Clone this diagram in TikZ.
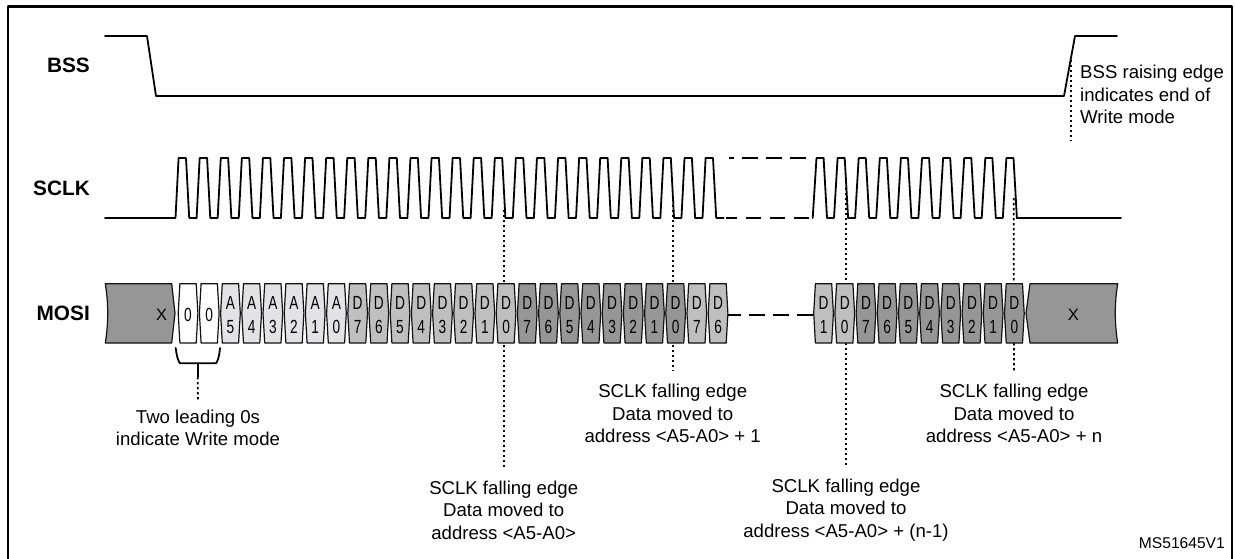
\documentclass[tikz,border=0pt]{standalone}
\usepackage{fontspec}
\usepackage{pgf,tikz}
\setmainfont{Liberation Sans}
\newfontfamily\cellfont[FakeStretch=0.72]{Liberation Sans}
\definecolor{qqqqqq}{rgb}{0.07,0.07,0.07}
\definecolor{ffffff}{rgb}{1.,1.,1.}
\definecolor{eeeeee}{rgb}{0.89,0.89,0.90}
\definecolor{cccccc}{rgb}{0.75,0.75,0.75}
\definecolor{999999}{rgb}{0.59,0.59,0.59}
\tikzset{
  signal line/.style={line width=1.8pt,black},
  lead line/.style={line width=1.8pt,black,line cap=butt,dash pattern=on 2.4pt off 2.6pt},
  cell line/.style={line width=1.2pt,qqqqqq},
  cell text/.style={font=\cellfont\fontsize{19}{24.5}\selectfont,align=center,inner sep=0pt,minimum width=19.7pt,minimum height=59.3pt},
  note/.style={font=\fontsize{18.6}{22.6}\selectfont,align=center,inner sep=0pt},
  name label/.style={font=\bfseries\fontsize{20.8}{24}\selectfont,inner sep=0pt,anchor=east},
}
\begin{document}
\begin{tikzpicture}[line cap=round,line join=round,x=1pt,y=-1pt]
\useasboundingbox (0,0) rectangle (1235,559);
\draw [line width=2.6pt,line cap=butt] (8,560) -- (8,6.5) -- (1232,6.5) -- (1232,560);
\node [name label] (bss) at (90,65) {BSS};
\node [name label] (sclk) at (90,188) {SCLK};
\node [name label] (mosi) at (90,313.3) {MOSI};
% waveforms
\draw [signal line] (105,36) -- (147,36) -- (156,96) -- (1064,96) -- (1075,36) -- (1117,36);
\draw [signal line] (105,218) -- (175.5,218)
  \foreach \k in {0,...,25} { -- ({178.6+21.08*\k},158) -- ({186+21.08*\k},158) -- ({189.2+21.08*\k},218) -- ({196.6+21.08*\k},218) };
\draw [signal line] (812.7,218)
  \foreach \k in {0,...,9} { -- ({816.5+21.1*\k},158) -- ({823.6+21.1*\k},158) -- ({827+21.1*\k},218) -- ({834+21.1*\k},218) };
\draw [signal line] (1016.7,218) -- (1121,218);
\draw [signal line,line cap=butt,dash pattern=on 16pt off 8pt,dash phase=11.3pt] (729,158) -- (806,158);
\draw [signal line,line cap=butt,dash pattern=on 15.5pt off 8.5pt,dash phase=4.5pt] (726,218) -- (809,218);
% text under the frames
\node [note] (lead0) at (198,428) {Two leading 0s\\indicate Write mode};
\node [note] (edge0) at (503.7,510) {SCLK falling edge\\Data moved to\\address <A5-A0>};
\node [note] (edge1) at (672.7,413.5) {SCLK falling edge\\Data moved to\\address <A5-A0> + 1};
\node [note] (edge2) at (846,510) {SCLK falling edge\\Data moved to\\address <A5-A0> + (n-1)};
\node [note] (edge3) at (1014,413.5) {SCLK falling edge\\Data moved to\\address <A5-A0> + n};
\node [note,align=left,anchor=north west] (bssnote) at (1080,65) {BSS raising edge\\indicates end of\\Write mode};
\node [font=\fontsize{15.6}{18}\selectfont,inner sep=0pt,anchor=east] (code) at (1225,542.7) {MS51645V1};
% dotted leaders
\coordinate (tick0) at (503.7,210);
\coordinate (tick1) at (672.7,205);
\coordinate (tick2) at (846,188);
\coordinate (tick3) at (1013.7,198);
\coordinate (tickbss) at (1070.7,60);
\coordinate (tickend) at (1070.7,141);
\draw [lead line,shorten >=13pt] (tick0) -- (edge0.north);
\draw [lead line,shorten >=13pt] (tick1) -- (edge1.north);
\draw [lead line,shorten >=13pt] (tick2) -- (edge2.north);
\draw [lead line,shorten >=13pt] (tick3) -- (edge3.north);
\draw [lead line] (tickbss) -- (tickend);
% serial data
\draw [cell line,fill=999999] (105.3,283.7) -- (171.7,283.7) -- (175,313.3) -- (171.7,343) -- (105.3,343) .. controls (108.5,323) and (108.5,303) .. cycle;
\draw [cell line,fill=999999] (1030,283.7) -- (1117.7,283.7) .. controls (1114.5,303) and (1114.5,323) .. (1117.7,343) -- (1030,343) -- (1026,313.3) -- cycle;
\node [font=\fontsize{16.5}{20}\selectfont,inner sep=0pt] (xa) at (161.7,315) {X};
\node [font=\fontsize{16.5}{20}\selectfont,inner sep=0pt] (xb) at (1073.3,315) {X};
\foreach \k/\f/\t in {0/ffffff/0,1/ffffff/0,
  2/eeeeee/A\\5,3/eeeeee/A\\4,4/eeeeee/A\\3,5/eeeeee/A\\2,6/eeeeee/A\\1,7/eeeeee/A\\0,
  8/cccccc/D\\7,9/cccccc/D\\6,10/cccccc/D\\5,11/cccccc/D\\4,12/cccccc/D\\3,13/cccccc/D\\2,14/cccccc/D\\1,15/cccccc/D\\0,
  16/999999/D\\7,17/999999/D\\6,18/999999/D\\5,19/999999/D\\4,20/999999/D\\3,21/999999/D\\2,22/999999/D\\1,23/999999/D\\0,
  24/cccccc/D\\7,25/cccccc/D\\6}
{
  \pgfmathsetmacro{\xa}{178.2+21.2*\k}
  \draw [cell line,fill=\f] (\xa+1.7,283.7) -- (\xa+18,283.7) -- (\xa+19.7,313.3) -- (\xa+18,343) -- (\xa+1.7,343) -- (\xa,313.3) -- cycle;
  \node [cell text] (cella\k) at (\xa+9.85,315) {\t};
}
\foreach \k/\f/\t in {0/cccccc/D\\1,1/cccccc/D\\0,
  2/999999/D\\7,3/999999/D\\6,4/999999/D\\5,5/999999/D\\4,6/999999/D\\3,7/999999/D\\2,8/999999/D\\1,9/999999/D\\0}
{
  \pgfmathsetmacro{\xa}{813.7+21.2*\k}
  \draw [cell line,fill=\f] (\xa+1.7,283.7) -- (\xa+18,283.7) -- (\xa+19.7,313.3) -- (\xa+18,343) -- (\xa+1.7,343) -- (\xa,313.3) -- cycle;
  \node [cell text] (cellb\k) at (\xa+9.85,315) {\t};
}
\draw [signal line,line cap=butt,dash pattern=on 13pt off 8pt on 16pt off 8pt on 16pt off 8pt on 16pt off 8pt] (cella25.east) -- (cellb0.west);
% bracket for the leading zeros
\coordinate (brl) at (175.7,348);
\coordinate (brr) at (220,348);
\coordinate (brm) at (197.7,363.3);
\coordinate (brs) at (197.7,377);
\draw [signal line] (brl) .. controls (176.5,355) and (178,361) .. (180,363.3) -- (216,363.3) .. controls (218,361) and (219.5,355) .. (brr);
\draw [signal line,line cap=butt] (brm) -- (brs);
\draw [lead line,shorten >=8pt] (brs) -- (lead0.north);
\end{tikzpicture}
\end{document}
